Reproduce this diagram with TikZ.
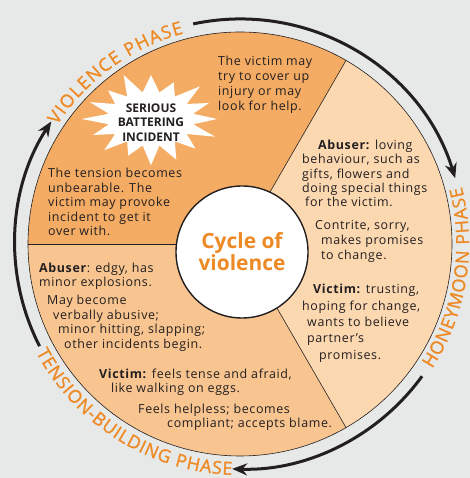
\documentclass[tikz,border=0pt]{standalone}
\usepackage{fontspec}
\setmainfont{Open Sans}
\newfontfamily\bodyf{Open Sans}[LetterSpace=5]
\newfontfamily\phasef{Open Sans}[FakeBold=1.2]
\usetikzlibrary{decorations.text,arrows.meta}
\definecolor{bg}{HTML}{E7E9E9}
\definecolor{viol}{HTML}{F4AC64}
\definecolor{tens}{HTML}{F8C590}
\definecolor{honey}{HTML}{FCD8B1}
\definecolor{orng}{HTML}{EE8A26}
\definecolor{ink}{HTML}{231F20}
\begin{document}
\begin{tikzpicture}[x=1bp,y=1bp,
  para/.style={anchor=north west, inner sep=0, align=left, text=ink, font=\bodyf\fontsize{12.5}{#1}\selectfont},
  para/.default=14.6,
  arrowarc/.style={line width=3bp, draw=ink, -{Stealth[length=15bp,width=12bp]}},
  phase/.style={decorate, decoration={text along path, text align={fit to path}, text color=orng, text={|\phasef\fontsize{18}{18}\selectfont|#1}}},
  sector/.style={draw=ink, line width=0.6bp}]
\useasboundingbox (0,0) rectangle (470,478);
\fill[bg] (0,0) rectangle (470,478);
\coordinate (C) at (240,234);
% sectors
\fill[viol] (C) -- ([shift={(60:212)}]C) arc (60:180:212) -- cycle;
\fill[tens] (C) -- ([shift={(180:212)}]C) arc (180:300:212) -- cycle;
\fill[honey] (C) -- ([shift={(-60:212)}]C) arc (-60:60:212) -- cycle;
\draw[sector] (C) circle (212);
\draw[sector] (C) -- ([shift={(60:212)}]C);
\draw[sector] (C) -- ([shift={(180:212)}]C);
\draw[sector] (C) -- ([shift={(300:212)}]C);
% arrows
\draw[arrowarc] ([shift={(102:225)}]C) arc (102:17:225);
\draw[arrowarc] ([shift={(-36:225)}]C) arc (-36:-92:225);
\draw[arrowarc] ([shift={(207:225)}]C) arc (207:147:225);
% phase labels
\path[phase={VIOLENCE PHASE}] ([shift={(147:218)}]C) arc (147:105:218);
\path[phase={HONEYMOON PHASE}] ([shift={(-33:229)}]C) arc (-33:14.5:229);
\path[phase={TENSION-BUILDING PHASE}] ([shift={(-152:231)}]C) arc (-152:-92:231);
% star
\fill[white,shift={(151,359)}] (0:66 and 44)
  \foreach \k/\f in {0/0.95,1/1.05,2/0.9,3/1.0,4/1.08,5/0.92,6/1.0,7/1.05,8/0.95,9/1.0,10/0.9,11/1.05,12/1.0,13/0.95,14/1.05,15/1.0}
  { -- ({\k*22.5+11.25}:43 and 27) -- ({(\k+1)*22.5}:{66*\f} and {44*\f}) } -- cycle;
\node[align=center, inner sep=0, text=ink, font=\bfseries\fontsize{12}{14.5}\selectfont] (star) at (151,355.5) {SERIOUS\\BATTERING\\INCIDENT};
% hub
\node[circle, draw=ink, fill=white, line width=1.4bp, minimum size=132bp, inner sep=0, align=center, text=orng, font=\bfseries\fontsize{21}{22}\selectfont] (hub) at (242,226) {Cycle of\\violence};
% texts
\node[para=15] (p1) at (218,422) {The victim may\\try to cover up\\injury or may\\look for help.};
\node[para=14.6] (p2) at (48,310) {The tension becomes\\unbearable. The\\victim may provoke\\incident to get it\\over with.};
\node[para=14.3] (p3) at (302,338) {\hspace*{16bp}\textbf{Abuser:} loving\\behaviour, such as\\gifts, flowers and\\doing special things\\\hspace*{3bp}for the victim.};
\node[para=15] (p4) at (315,258) {Contrite, sorry,\\\hspace*{6bp}makes promises\\\hspace*{6bp}to change.};
\node[para=16.5] (p5) at (302,194) {\hspace*{11bp}\textbf{Victim:} trusting,\\hoping for change,\\\hspace*{5bp}wants to believe\\\hspace*{5bp}partner’s\\\hspace*{17bp}promises.};
\node[para=13.8] (p6) at (39,215) {\textbf{Abuser}: edgy, has\\minor explosions.};
\node[para=14.7] (p7) at (47,183) {May become\\\hspace*{6bp}verbally abusive;\\\hspace*{11bp}minor hitting, slapping;\\\hspace*{17bp}other incidents begin.};
\node[para=14] (p8) at (99,109) {\textbf{Victim:} feels tense and afraid,\\\hspace*{12bp}like walking on eggs.};
\node[para=13.5] (p9) at (138,74) {Feels helpless; becomes\\\hspace*{29bp}compliant; accepts blame.};
\end{tikzpicture}
\end{document}
